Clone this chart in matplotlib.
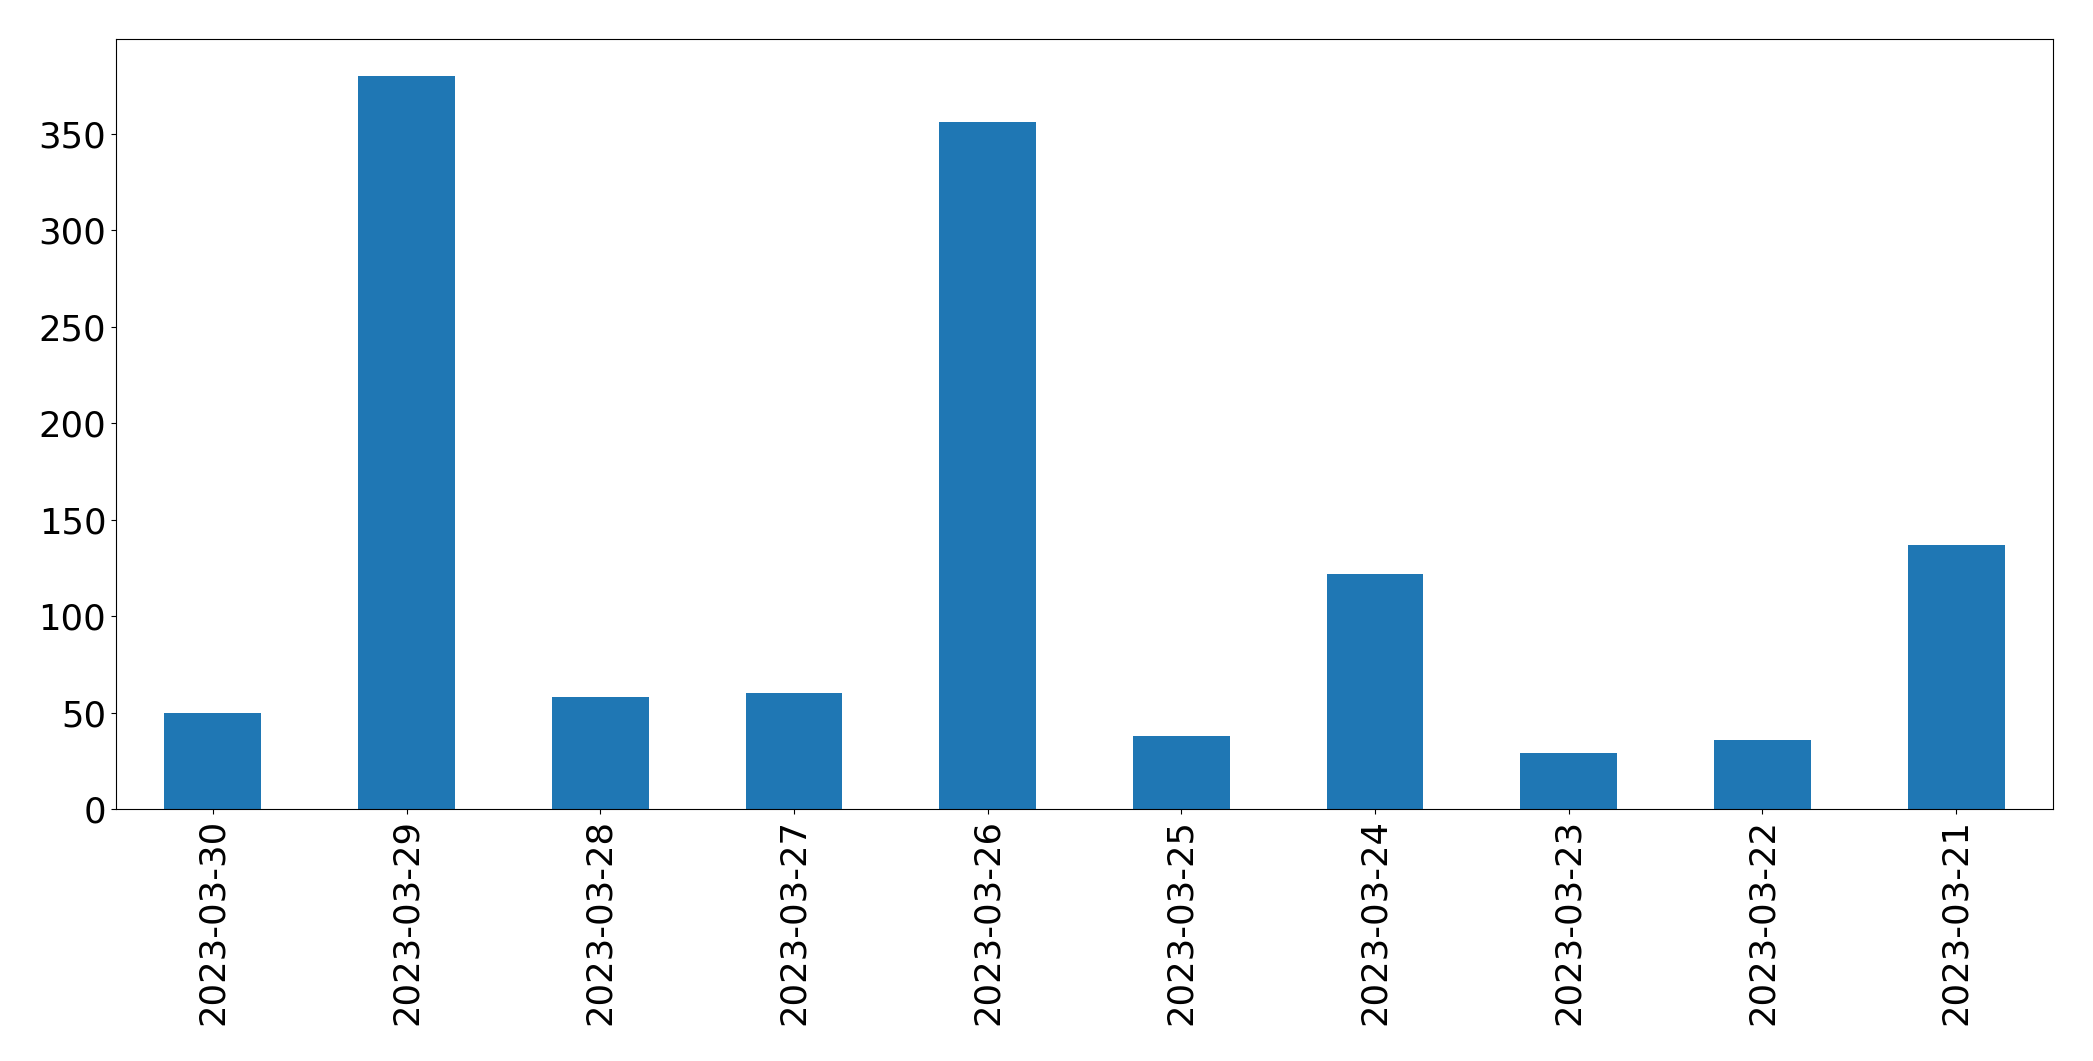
import matplotlib
matplotlib.use("Agg")
import matplotlib.pyplot as plt

# -----------------------------
# Data
# -----------------------------
dates = ["2023-03-30", "2023-03-29", "2023-03-28", "2023-03-27", "2023-03-26",
         "2023-03-25", "2023-03-24", "2023-03-23", "2023-03-22", "2023-03-21"]
counts = [50, 380, 58, 60, 356, 38, 122, 29, 36, 137]

# -----------------------------
# Plot
# -----------------------------
W, H = 2093, 1061
fig = plt.figure(figsize=(W / 100, H / 100), dpi=100)
ax = fig.add_axes([116 / W, (H - 809) / H, 1937 / W, 770 / H])

x = range(len(dates))
ax.bar(x, counts, width=0.5, color="#1f77b4")
ax.set_xlim(-0.5, len(dates) - 0.5)
ax.set_ylim(0, 399)
ax.set_xticks(list(x))
ax.set_xticklabels(dates, rotation=90)
ax.tick_params(axis="both", labelsize=25.5)

fig.savefig("out.png", dpi=100)
